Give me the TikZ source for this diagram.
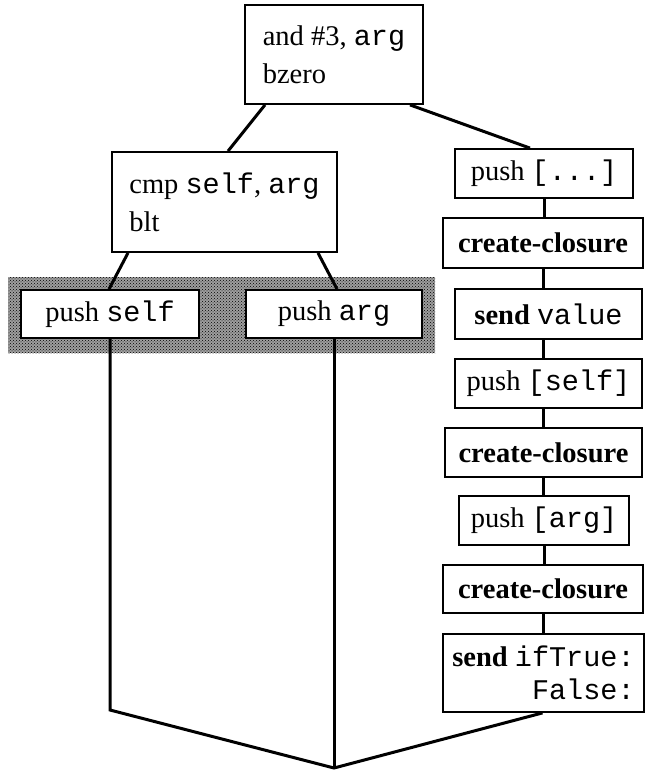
\documentclass[tikz,border=0pt]{standalone}
\usepackage{fontspec}
\setmainfont{Liberation Serif}
\setmonofont{Liberation Mono}
\usetikzlibrary{patterns}
\begin{document}
\begin{tikzpicture}[x=1pt,y=-1pt,
  box/.style={draw, line width=1.8pt, fill=white, inner sep=0pt,
    font=\fontsize{28.5}{38}\selectfont},
  link/.style={line width=3pt},
  shade/.style={pattern=crosshatch dots, pattern color=black}]
\useasboundingbox (0,0) rectangle (647,771);
\fill[black!38] (8,277) rectangle (435,353);
\fill[shade] (8,277) rectangle (435,353);
% left part
\node[box, minimum width=178pt, minimum height=99pt, align=left] (top) at (334,54.5)
  {and \#3, \texttt{arg}\\bzero};
\node[box, minimum width=225pt, minimum height=100pt, align=left] (cmp) at (224.5,202)
  {cmp \texttt{self}, \texttt{arg}\\blt};
\node[box, minimum width=178pt, minimum height=48pt] (pself) at (110,314) {push \texttt{self}};
\node[box, minimum width=176pt, minimum height=48pt] (parg) at (334,314) {push \texttt{arg}};
% right column
\node[box, minimum width=178pt, minimum height=49pt] (r1) at (544,173.5) {push \texttt{[...]}};
\node[box, minimum width=200pt, minimum height=50pt] (r2) at (543,243) {\textbf{create-closure}};
\node[box, minimum width=187pt, minimum height=50pt] (r3) at (548.5,314) {\textbf{send} \texttt{value}};
\node[box, minimum width=187pt, minimum height=49pt] (r4) at (548.5,383.5) {push \texttt{[self]}};
\node[box, minimum width=197pt, minimum height=49pt] (r5) at (543.5,452.5) {\textbf{create-closure}};
\node[box, minimum width=170pt, minimum height=49pt] (r6) at (544,520.5) {push \texttt{[arg]}};
\node[box, minimum width=200pt, minimum height=48pt] (r7) at (543,589) {\textbf{create-closure}};
\node[box, minimum width=201pt, minimum height=78pt, align=right] (r8) at (543.5,673)
  {\textbf{send} \texttt{ifTrue:}\\[-5pt]\texttt{False:}};
% connectors
\draw[link] ([xshift=-69pt]top.south) -- ([xshift=3.5pt]cmp.north);
\draw[link] ([xshift=76pt]top.south) -- ([xshift=-14pt]r1.north);
\draw[link] ([xshift=-96.5pt]cmp.south) -- ([xshift=-1pt]pself.north);
\draw[link] ([xshift=93.5pt]cmp.south) -- ([xshift=3pt]parg.north);
\draw[link] (r1.south) -- (r1.south |- r2.north);
\draw[link] (r2.south) -- (r2.south |- r3.north);
\draw[link] (r2.south |- r3.south) -- (r2.south |- r4.north);
\draw[link] (r2.south |- r4.south) -- (r2.south |- r5.north);
\draw[link] (r5.south) -- (r5.south |- r6.north);
\draw[link] (r6.south) -- (r6.south |- r7.north);
\draw[link] (r7.south) -- (r7.south |- r8.north);
\coordinate (bl) at (110,710);
\coordinate (bm) at (334,768);
\draw[link] (pself.south) -- (bl) -- (bm) -- ([xshift=-1pt]r8.south);
\draw[link] (parg.south) -- (bm);
\end{tikzpicture}
\end{document}
